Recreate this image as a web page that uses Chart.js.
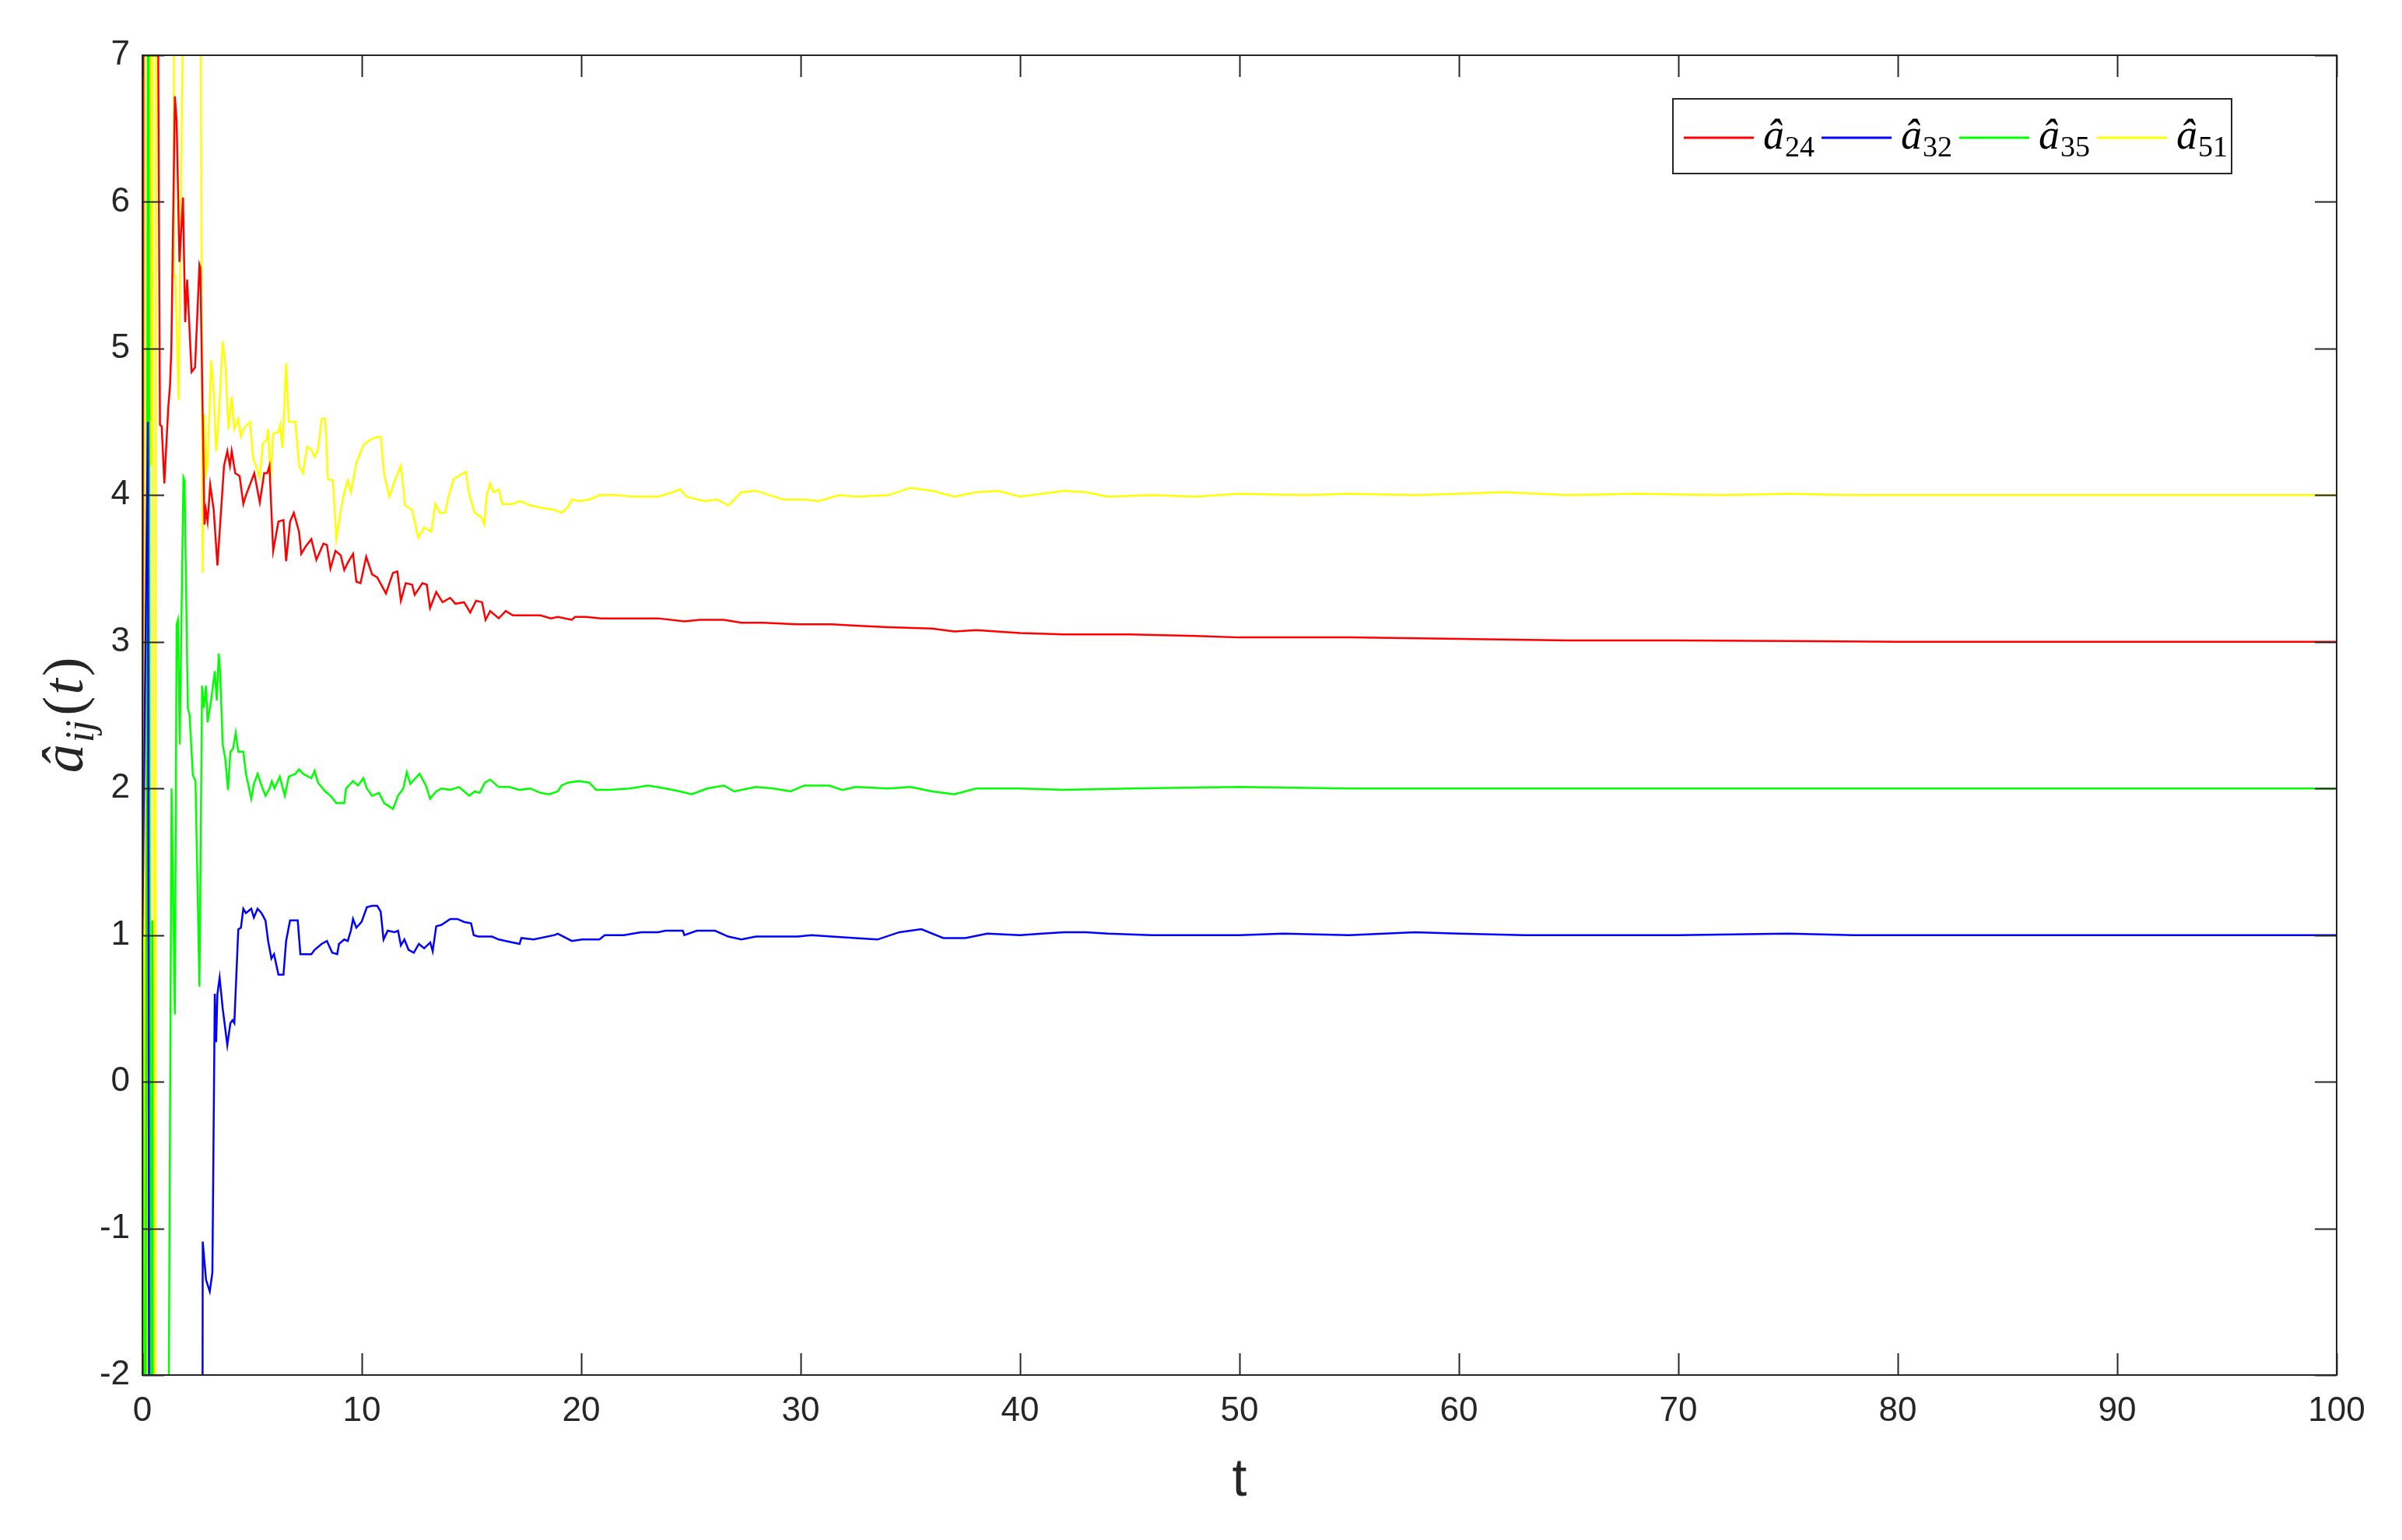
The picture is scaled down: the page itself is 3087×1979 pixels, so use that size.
<!DOCTYPE html>
<html>
<head>
<meta charset="utf-8">
<script src="https://cdn.jsdelivr.net/npm/chart.js@4.4.1/dist/chart.umd.min.js"></script>
<style>
  html, body { margin: 0; padding: 0; background: #ffffff; }
  #wrap { width: 3087px; height: 1979px; }
</style>
</head>
<body>
<div id="wrap"><canvas id="adaptChart" width="3087" height="1979"></canvas></div>
<script>
// values (t, estimate)
const tA24 = [0, 0.08, 0.6, 0.66, 0.8, 0.88, 1.0, 1.18, 1.26, 1.32, 1.48, 1.56, 1.69, 1.85, 1.95, 2.04, 2.24, 2.4, 2.6, 2.64, 2.83, 2.89, 2.97, 3.09, 3.25, 3.42, 3.72, 3.87, 3.99, 4.07, 4.23, 4.43, 4.6, 4.72, 5.1, 5.35, 5.55, 5.69, 5.79, 5.96, 6.2, 6.43, 6.55, 6.73, 6.9, 7.14, 7.24, 7.44, 7.7, 7.93, 8.25, 8.41, 8.57, 8.8, 9.04, 9.2, 9.36, 9.6, 9.75, 9.94, 10.2, 10.47, 10.7, 11.1, 11.42, 11.62, 11.78, 12.0, 12.29, 12.41, 12.76, 12.96, 13.11, 13.39, 13.68, 14.03, 14.26, 14.66, 14.94, 15.21, 15.48, 15.64, 15.85, 16.24, 16.56, 16.88, 17.51, 18.14, 18.62, 18.93, 19.57, 19.72, 20.2, 20.9, 21.94, 23.5, 24.7, 25.4, 26.5, 27.3, 28.3, 29.86, 31.4, 32.5, 34, 36, 37, 38, 40, 42, 45, 48, 50, 55, 60, 65, 70, 75, 80, 100];
const a24 = [1, 12, 14, 9, 4.48, 4.47, 4.08, 4.6, 4.75, 5.0, 6.72, 6.55, 5.59, 6.03, 5.18, 5.47, 4.84, 4.87, 5.57, 5.55, 3.8, 3.9, 3.82, 4.07, 3.9, 3.52, 4.2, 4.3, 4.2, 4.3, 4.15, 4.13, 3.94, 4.0, 4.15, 3.95, 4.15, 4.15, 4.2, 3.62, 3.82, 3.83, 3.55, 3.82, 3.88, 3.75, 3.6, 3.65, 3.70, 3.56, 3.67, 3.66, 3.50, 3.62, 3.59, 3.49, 3.54, 3.6, 3.41, 3.40, 3.58, 3.46, 3.44, 3.33, 3.47, 3.48, 3.28, 3.40, 3.39, 3.32, 3.40, 3.39, 3.23, 3.34, 3.27, 3.30, 3.26, 3.27, 3.20, 3.28, 3.27, 3.15, 3.21, 3.16, 3.21, 3.18, 3.18, 3.18, 3.16, 3.17, 3.15, 3.17, 3.17, 3.16, 3.16, 3.16, 3.14, 3.15, 3.15, 3.13, 3.13, 3.12, 3.12, 3.11, 3.10, 3.09, 3.07, 3.08, 3.06, 3.05, 3.05, 3.04, 3.03, 3.03, 3.02, 3.01, 3.01, 3.005, 3.0, 3.0];

const tA32 = [0, 0.25, 0.35, 2.72, 2.75, 2.9, 3.07, 3.19, 3.3, 3.36, 3.42, 3.52, 3.66, 3.87, 4.01, 4.11, 4.19, 4.37, 4.49, 4.6, 4.72, 4.96, 5.08, 5.25, 5.43, 5.61, 5.73, 5.88, 6.0, 6.2, 6.43, 6.55, 6.73, 7.08, 7.2, 7.44, 7.7, 7.85, 8.17, 8.41, 8.65, 8.88, 8.96, 9.2, 9.36, 9.5, 9.6, 9.75, 9.99, 10.23, 10.47, 10.7, 10.86, 10.99, 11.18, 11.5, 11.65, 11.78, 11.94, 12.13, 12.37, 12.6, 12.84, 13.12, 13.23, 13.39, 13.63, 14.03, 14.35, 14.66, 14.98, 15.1, 15.3, 15.61, 15.93, 16.24, 16.56, 17.19, 17.27, 17.83, 18.78, 18.93, 19.57, 20.04, 20.36, 20.83, 21.07, 21.94, 22.73, 23.5, 23.84, 24.63, 24.7, 25.27, 26.1, 26.7, 27.3, 27.96, 28.75, 29.86, 30.5, 31.4, 32.5, 33.5, 34.5, 35.5, 36.5, 37.5, 38.5, 40, 41, 42, 43, 44, 46, 48, 50, 52, 55, 58, 60, 63, 66, 70, 75, 78, 100];
const a32 = [1, 4.5, -8, -5, -1.09, -1.35, -1.43, -1.3, 0.6, 0.27, 0.6, 0.71, 0.5, 0.25, 0.4, 0.42, 0.4, 1.04, 1.05, 1.18, 1.15, 1.18, 1.12, 1.18, 1.15, 1.1, 0.96, 0.84, 0.87, 0.73, 0.73, 0.96, 1.1, 1.1, 0.87, 0.87, 0.87, 0.9, 0.94, 0.96, 0.88, 0.87, 0.94, 0.97, 0.96, 1.03, 1.11, 1.05, 1.09, 1.19, 1.2, 1.2, 1.16, 0.97, 1.03, 1.02, 1.03, 0.93, 0.97, 0.9, 0.88, 0.94, 0.91, 0.95, 0.89, 1.06, 1.07, 1.11, 1.11, 1.09, 1.08, 1.0, 0.99, 0.99, 0.99, 0.97, 0.96, 0.94, 0.98, 0.97, 1.0, 1.01, 0.96, 0.97, 0.97, 0.97, 1.0, 1.0, 1.02, 1.02, 1.03, 1.03, 1.0, 1.03, 1.03, 0.99, 0.97, 0.99, 0.99, 0.99, 1.0, 0.99, 0.98, 0.97, 1.02, 1.04, 0.98, 0.98, 1.01, 1.0, 1.01, 1.02, 1.02, 1.01, 1.0, 1.0, 1.0, 1.01, 1.0, 1.02, 1.01, 1.0, 1.0, 1.0, 1.01, 1.0, 1.0];

const tA35 = [0, 0.12, 0.27, 0.4, 0.45, 0.52, 1.08, 1.33, 1.48, 1.56, 1.62, 1.7, 1.87, 1.92, 2.07, 2.15, 2.3, 2.42, 2.6, 2.72, 2.8, 2.9, 2.97, 3.13, 3.3, 3.39, 3.48, 3.54, 3.66, 3.78, 3.9, 4.01, 4.13, 4.25, 4.37, 4.6, 4.72, 4.96, 5.08, 5.25, 5.43, 5.61, 5.79, 5.9, 6.02, 6.26, 6.49, 6.67, 6.97, 7.14, 7.32, 7.7, 7.85, 8.0, 8.33, 8.57, 8.84, 9.2, 9.28, 9.6, 9.83, 10.07, 10.23, 10.47, 10.78, 11.02, 11.42, 11.65, 11.89, 12.05, 12.21, 12.44, 12.63, 12.92, 13.11, 13.39, 13.63, 14.03, 14.42, 14.66, 14.9, 15.14, 15.37, 15.61, 15.85, 16.24, 16.72, 17.19, 17.67, 18.14, 18.54, 18.93, 19.1, 19.4, 19.88, 20.36, 20.68, 21.3, 22.2, 23.05, 23.84, 24.5, 25.03, 25.74, 26.5, 26.97, 27.96, 28.75, 29.54, 30.17, 31.3, 31.9, 32.5, 34, 35, 36, 37, 38, 40, 42, 45, 50, 55, 60, 65, 100];
const a35 = [1, -5, 9, -6, 1.1, -8, -6, 2.0, 0.46, 3.12, 3.15, 2.3, 4.12, 4.1, 2.55, 2.5, 2.09, 2.05, 0.65, 2.7, 2.55, 2.7, 2.45, 2.6, 2.8, 2.6, 2.92, 2.8, 2.3, 2.2, 1.99, 2.25, 2.27, 2.38, 2.25, 2.25, 2.1, 1.93, 2.03, 2.1, 2.02, 1.95, 2.0, 2.05, 2.0, 2.08, 1.95, 2.08, 2.1, 2.13, 2.1, 2.07, 2.12, 2.04, 1.98, 1.95, 1.9, 1.9, 2.0, 2.05, 2.02, 2.07, 2.0, 1.95, 1.97, 1.9, 1.86, 1.95, 2.0, 2.11, 2.03, 2.07, 2.1, 2.02, 1.93, 1.98, 2.0, 1.99, 2.01, 1.98, 1.95, 1.98, 1.97, 2.04, 2.06, 2.01, 2.01, 1.99, 2.0, 1.97, 1.96, 1.98, 2.02, 2.04, 2.05, 2.04, 1.99, 1.99, 2.0, 2.02, 2.0, 1.98, 1.96, 2.0, 2.02, 1.98, 2.01, 2.0, 1.98, 2.02, 2.02, 1.99, 2.01, 2.0, 2.01, 1.98, 1.96, 2.0, 2.0, 1.99, 2.0, 2.01, 2.0, 2.0, 2.0, 2.0];

const tA51 = [0, 0.04, 0.09, 0.15, 0.3, 0.38, 0.44, 0.5, 0.55, 0.58, 0.64, 1.4, 1.44, 1.5, 1.65, 1.87, 2.6, 2.66, 2.75, 2.83, 2.9, 2.97, 3.13, 3.25, 3.36, 3.45, 3.66, 3.78, 3.92, 4.07, 4.19, 4.37, 4.49, 4.6, 4.9, 5.05, 5.35, 5.49, 5.67, 5.73, 5.84, 5.96, 6.2, 6.28, 6.38, 6.55, 6.67, 6.97, 7.14, 7.32, 7.5, 7.7, 7.85, 8.0, 8.17, 8.33, 8.45, 8.68, 8.84, 9.04, 9.2, 9.36, 9.5, 9.75, 10.07, 10.3, 10.55, 10.86, 11.02, 11.26, 11.5, 11.78, 11.97, 12.29, 12.57, 12.84, 13.16, 13.35, 13.55, 13.79, 13.95, 14.19, 14.5, 14.74, 14.9, 15.14, 15.45, 15.58, 15.69, 15.85, 16.0, 16.24, 16.4, 16.88, 17.19, 17.67, 18.3, 18.78, 19.1, 19.4, 19.57, 19.9, 20.36, 20.83, 21.6, 22.4, 23.5, 24.16, 24.5, 24.8, 25.6, 26.2, 26.7, 27.3, 27.96, 28.6, 29.2, 30.2, 30.8, 31.76, 32.5, 34, 35, 36, 37, 38, 39, 40, 41, 42, 43, 44, 46, 48, 50, 53, 55, 58, 60, 62, 65, 68, 72, 75, 78, 85, 100];
const a51 = [1, -10, 12, -10, 12, 4.2, 9, 2.1, -0.5, -6, 14, 14, 5.5, 5.5, 4.65, 7.5, 12, 7, 3.47, 4.55, 4.15, 4.2, 4.92, 4.7, 4.3, 4.45, 5.05, 4.9, 4.45, 4.67, 4.45, 4.52, 4.4, 4.45, 4.5, 4.25, 4.12, 4.35, 4.38, 4.45, 4.1, 4.42, 4.43, 4.48, 4.32, 4.9, 4.5, 4.5, 4.2, 4.15, 4.33, 4.31, 4.26, 4.31, 4.52, 4.52, 4.11, 4.1, 3.7, 3.9, 4.02, 4.1, 4.02, 4.22, 4.34, 4.37, 4.39, 4.4, 4.14, 3.99, 4.1, 4.2, 3.93, 3.9, 3.71, 3.78, 3.75, 3.94, 3.88, 3.88, 3.99, 4.11, 4.14, 4.16, 4.0, 3.88, 3.85, 3.8, 4.0, 4.08, 4.02, 4.04, 3.94, 3.94, 3.96, 3.93, 3.91, 3.9, 3.88, 3.92, 3.97, 3.96, 3.97, 4.0, 4.0, 3.99, 3.99, 4.02, 4.04, 3.99, 3.96, 3.97, 3.93, 4.02, 4.03, 4.0, 3.97, 3.97, 3.96, 4.0, 3.99, 4.0, 4.05, 4.03, 3.99, 4.02, 4.03, 3.99, 4.01, 4.03, 4.02, 3.99, 4.0, 3.99, 4.01, 4.0, 4.01, 4.0, 4.01, 4.02, 4.0, 4.01, 4.0, 4.01, 4.0, 4.0, 4.0];

const seriesNames = ['24', '32', '35', '51'];
const seriesColors = ['#ff0000', '#0000ff', '#00ff00', '#ffff00'];
const xTicks = [0, 10, 20, 30, 40, 50, 60, 70, 80, 90, 100];
const yTicks = [-2, -1, 0, 1, 2, 3, 4, 5, 6, 7];

const axisColor = '#262626';
const sansFont = '"Liberation Sans Narrow", "Liberation Sans", Arial, sans-serif';
const serifFont = '"Liberation Serif", "DejaVu Serif", serif';

function pts(ts, vs) {
    return ts.map((t, i) => ({ x: t, y: vs[i] }));
}

// inward ticks on all four sides + the box, like a matlab axes
const boxTicks = {
    id: 'boxTicks',
    afterDatasetsDraw(chart) {
        const { ctx, chartArea: a, scales } = chart;
        const len = 28;
        ctx.save();
        ctx.strokeStyle = axisColor;
        ctx.lineWidth = 2;
        ctx.beginPath();
        xTicks.forEach(v => {
            const px = Math.round(scales.x.getPixelForValue(v)) + 0.5;
            ctx.moveTo(px, a.bottom); ctx.lineTo(px, a.bottom - len);
            ctx.moveTo(px, a.top); ctx.lineTo(px, a.top + len);
        });
        yTicks.forEach(v => {
            const py = Math.round(scales.y.getPixelForValue(v)) + 0.5;
            ctx.moveTo(a.left, py); ctx.lineTo(a.left + len, py);
            ctx.moveTo(a.right, py); ctx.lineTo(a.right - len, py);
        });
        ctx.stroke();
        ctx.strokeRect(a.left, a.top, a.right - a.left, a.bottom - a.top);
        ctx.restore();
    }
};

// titles and legend with hat / subscripts
const labels = {
    id: 'labels',
    afterDraw(chart) {
        const { ctx, chartArea: a } = chart;
        ctx.save();
        ctx.fillStyle = axisColor;
        ctx.textBaseline = 'alphabetic';

        // x title
        ctx.font = '68px ' + sansFont;
        ctx.textAlign = 'center';
        ctx.fillText('t', (a.left + a.right) / 2, 1922);

        // y title, rotated
        ctx.translate(106, (a.top + a.bottom) / 2);
        ctx.rotate(-Math.PI / 2);
        const big = 'italic 74px ' + serifFont;
        const sub = 'italic 52px ' + serifFont;
        const up = '74px ' + serifFont;
        const parts = [['â', big, 0, 2], ['ij', sub, 14, 6], ['(', up, 0, 2], ['t', big, 0, 3], [')', up, 0, 0]];
        let w = 0;
        parts.forEach(p => { ctx.font = p[1]; w += ctx.measureText(p[0]).width + p[3]; });
        let x = -w / 2;
        ctx.textAlign = 'left';
        parts.forEach(p => {
            ctx.font = p[1];
            ctx.fillText(p[0], x, p[2]);
            x += ctx.measureText(p[0]).width + p[3];
        });
        ctx.restore();

        // legend
        ctx.save();
        const bx = 2150, by = 127, bw = 718, bh = 96;
        ctx.fillStyle = '#ffffff';
        ctx.fillRect(bx, by, bw, bh);
        ctx.strokeStyle = axisColor;
        ctx.lineWidth = 2;
        ctx.strokeRect(bx, by, bw, bh);
        const ly = by + bh / 2 + 2;
        seriesNames.forEach((n, i) => {
            const x0 = bx + 14 + i * 177;
            ctx.strokeStyle = seriesColors[i];
            ctx.lineWidth = 3;
            ctx.beginPath();
            ctx.moveTo(x0, ly); ctx.lineTo(x0 + 90, ly);
            ctx.stroke();
            ctx.fillStyle = '#000000';
            ctx.textAlign = 'left';
            ctx.font = 'italic 54px ' + serifFont;
            ctx.fillText('â', x0 + 102, ly + 14);
            const aw = ctx.measureText('â').width;
            ctx.font = '38px ' + serifFont;
            ctx.fillText(n, x0 + 102 + aw + 1, ly + 24);
        });
        ctx.restore();
    }
};

const datasets = [
    [tA24, a24], [tA32, a32], [tA35, a35], [tA51, a51]
].map((s, i) => ({
    label: 'â' + seriesNames[i],
    data: pts(s[0], s[1]),
    borderColor: seriesColors[i],
    backgroundColor: seriesColors[i],
    borderWidth: 2.5,
    pointRadius: 0,
    tension: 0,
    fill: false
}));

new Chart(document.getElementById('adaptChart'), {
    type: 'line',
    data: { datasets: datasets },
    options: {
        responsive: false,
        animation: false,
        events: [],
        layout: { padding: { left: 0, right: 84, top: 71, bottom: 0 } },
        plugins: { legend: { display: false }, tooltip: { enabled: false } },
        scales: {
            x: {
                type: 'linear', min: 0, max: 100,
                grid: { display: false, drawTicks: false },
                border: { display: false },
                afterFit(scale) { scale.height = 212; },
                afterBuildTicks(scale) { scale.ticks = xTicks.map(v => ({ value: v })); },
                ticks: {
                    color: axisColor, padding: 20, autoSkip: false, maxRotation: 0,
                    font: { family: sansFont, size: 44 }
                }
            },
            y: {
                type: 'linear', min: -2, max: 7,
                grid: { display: false, drawTicks: false },
                border: { display: false },
                afterFit(scale) { scale.width = 183; },
                afterBuildTicks(scale) { scale.ticks = yTicks.map(v => ({ value: v })); },
                ticks: {
                    color: axisColor, padding: 16,
                    font: { family: sansFont, size: 44 }
                }
            }
        }
    },
    plugins: [boxTicks, labels]
});
</script>
</body>
</html>
